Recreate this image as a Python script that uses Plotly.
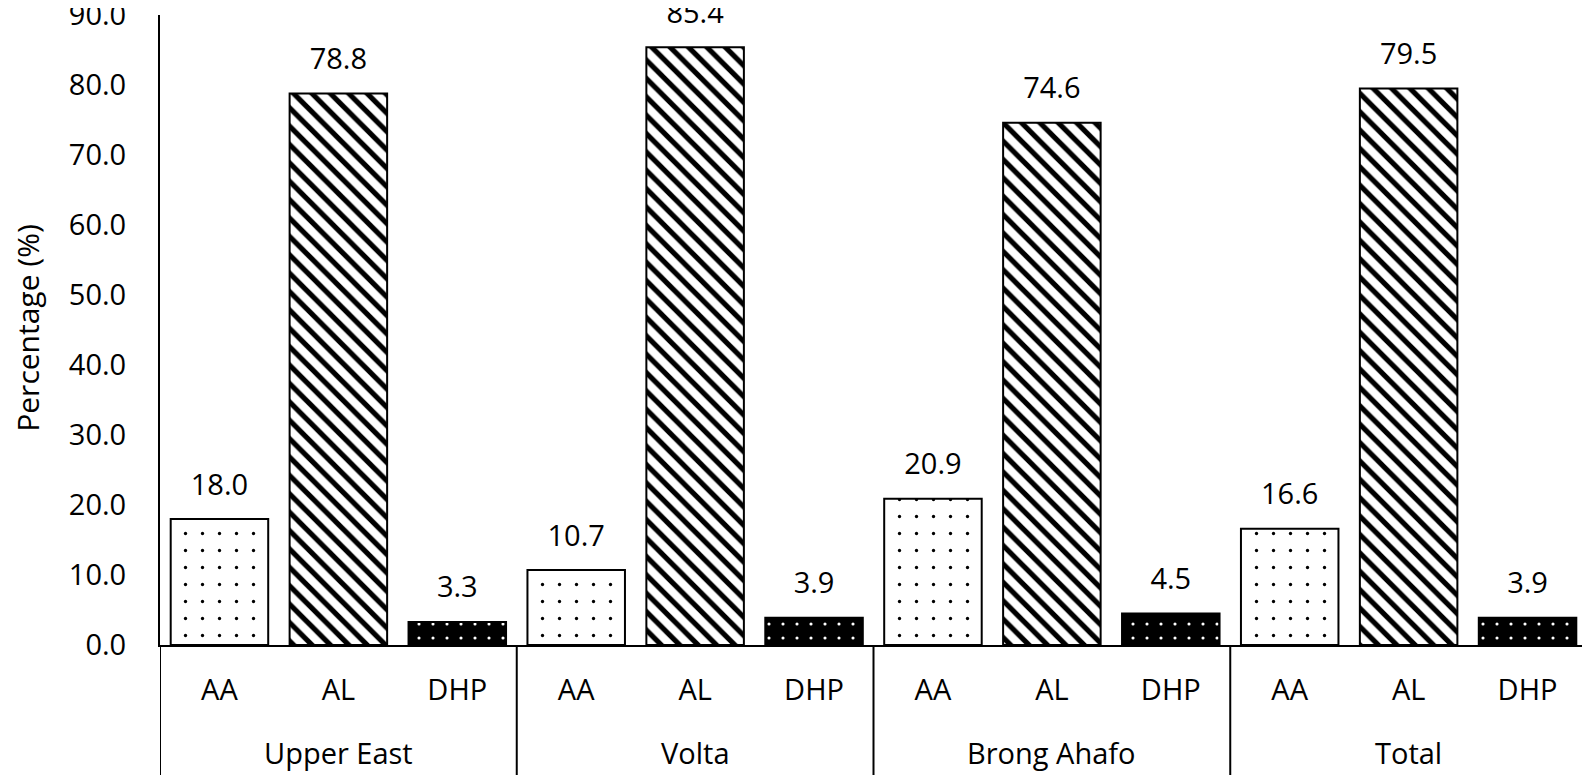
import plotly.graph_objects as go

groups = ["Upper East", "Volta", "Brong Ahafo", "Total"]
categories = ["AA", "AL", "DHP"]
aa_values = [18.0, 10.7, 20.9, 16.6]
al_values = [78.8, 85.4, 74.6, 79.5]
dhp_values = [3.3, 3.9, 4.5, 3.9]
y_ticks = [0, 10, 20, 30, 40, 50, 60, 70, 80, 90]
y_title = "Percentage (%)"

FONT = "Open Sans"
FS = 29

series = {"AA": aa_values, "AL": al_values, "DHP": dhp_values}
patterns = {
    "AA": dict(shape=".", fgcolor="black", bgcolor="white", size=17, solidity=0.03, fillmode="replace"),
    "AL": dict(shape="\\", fgcolor="black", bgcolor="white", size=13, solidity=0.4, fillmode="replace"),
    "DHP": dict(shape=".", fgcolor="white", bgcolor="black", size=14, solidity=0.04, fillmode="replace"),
}
base = {"AA": "white", "AL": "white", "DHP": "black"}

# category ids in display order
ids = [f"{g}|{c}" for g in groups for c in categories]
tick_text = [c for g in groups for c in categories]

fig = go.Figure()
for cat in categories:
    vals = series[cat]
    x = [f"{g}|{cat}" for g in groups]
    fig.add_trace(go.Bar(
        x=x, y=vals, name=cat,
        marker=dict(color=base[cat], line=dict(color="black", width=2), pattern=patterns[cat]),
        showlegend=False,
    ))
    fig.add_trace(go.Scatter(
        x=x, y=vals, mode="markers+text",
        text=[f"{v:.1f}" for v in vals], textposition="top center",
        textfont=dict(family=FONT, size=FS, color="black"),
        marker=dict(size=26, color="rgba(0,0,0,0)"),
        cliponaxis=False, showlegend=False, hoverinfo="skip",
    ))

# group labels and dividers, positioned in axis (category) units
n_cat = len(categories)
for i, g in enumerate(groups):
    fig.add_annotation(
        x=f"{g}|{categories[n_cat // 2]}", xref="x", y=-0.171, yref="paper",
        text=g, showarrow=False, yanchor="middle",
        font=dict(family=FONT, size=FS, color="black"),
    )
for i in range(len(groups) + 1):
    xb = i * n_cat - 0.5
    fig.add_shape(type="line", xref="x", yref="paper", x0=xb, x1=xb, y0=0, y1=-0.3,
                  line=dict(color="black", width=2))

# y-axis title
fig.add_annotation(
    x=-0.093, xref="paper", y=0.504, yref="paper", text=y_title, textangle=-90,
    showarrow=False, xanchor="center", yanchor="middle",
    font=dict(family=FONT, size=30, color="black"),
)

# page body has an 8px default margin; size the figure to fill the rest of the window
fig.update_layout(
    width=1582, height=767,
    margin=dict(l=152, r=3, t=7, b=130),
    paper_bgcolor="white", plot_bgcolor="white",
    barmode="overlay", bargap=0.18,
    font=dict(family=FONT, size=FS, color="black"),
)
fig.update_xaxes(
    type="category", categoryorder="array", categoryarray=ids,
    tickmode="array", tickvals=ids, ticktext=tick_text,
    range=[-0.5, len(ids) - 0.5], automargin=False,
    showline=True, linecolor="black", linewidth=2, showgrid=False,
    ticks="outside", ticklen=18, tickcolor="rgba(0,0,0,0)",
    tickfont=dict(family=FONT, size=FS, color="black"),
)
fig.update_yaxes(
    range=[0, 90], tickvals=y_ticks, tickformat=".1f", automargin=False,
    ticklabeloverflow="allow",
    showline=True, linecolor="black", linewidth=2, showgrid=False, zeroline=False,
    ticks="outside", ticklen=26, tickcolor="rgba(0,0,0,0)",
    tickfont=dict(family=FONT, size=FS, color="black"),
)

fig.write_html("out.html")
